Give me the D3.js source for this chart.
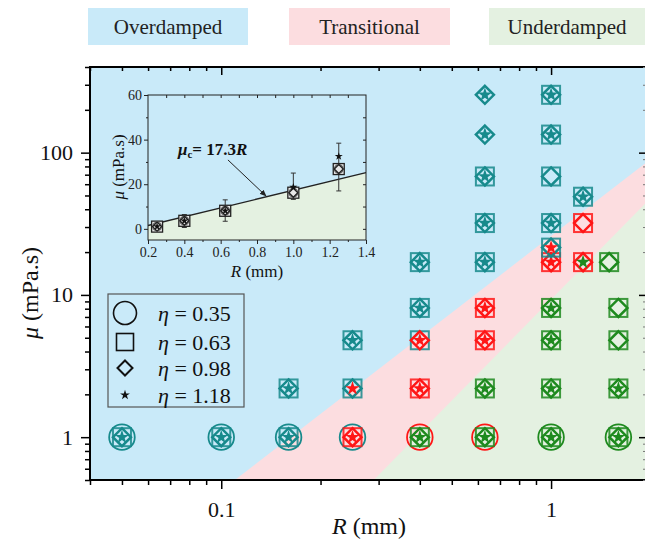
<!DOCTYPE html>
<html lang="en">
<head>
<meta charset="UTF-8">
<title>Damping regimes</title>
<style>
  body { margin: 0; background: #fff; }
  svg { display: block; }
</style>
</head>
<body>
<svg></svg>
<script src="https://d3js.org/d3.v7.min.js"></script>
<script>
const regimes = ["Overdamped", "Transitional", "Underdamped"];
const etas = ["0.35", "0.63", "0.98", "1.18"];
const xMajor = [0.1, 1];
const yMajor = [1, 10, 100];

// regime boundaries, [R, mu]
const edgeOT = [[0.11, 0.5], [1.94, 85]];
const edgeTU = [[0.29, 0.5], [1.94, 44.5]];

// R (mm), mu (mPa.s), regime seen for eta = 0.35 / 0.63 / 0.98 / 1.18  (O, T, U, "-" none)
const runs = [
  [0.05, 1, "OOOO"], [0.1, 1, "OOOO"], [0.16, 1, "OOOO"], [0.25, 1, "OTTT"],
  [0.4, 1, "TUUU"], [0.63, 1, "TUUU"], [1.0, 1, "UUUU"], [1.6, 1, "UUUU"],
  [0.16, 2.2, "-OOO"], [0.25, 2.2, "-OOT"], [0.4, 2.2, "-TTT"], [0.63, 2.2, "-UUU"],
  [1.0, 2.2, "-UUU"], [1.6, 2.2, "-UUU"],
  [0.25, 4.8, "-OOO"], [0.4, 4.8, "-OTT"], [0.63, 4.8, "-TTT"], [1.0, 4.8, "-UUU"], [1.6, 4.8, "-UU-"],
  [0.4, 8.1, "-OOO"], [0.63, 8.1, "-TTT"], [1.0, 8.1, "-UUU"], [1.6, 8.1, "-UU-"],
  [0.4, 17, "-OOO"], [0.63, 17, "-OOO"], [1.0, 17, "-TTT"], [1.25, 17, "-TTU"], [1.5, 17, "-UU-"],
  [1.0, 21.5, "-OOT"],
  [0.63, 32, "-OOO"], [1.0, 32, "-OOO"], [1.25, 32, "-TT-"],
  [1.25, 49, "-OOO"],
  [0.63, 68, "-OOO"], [1.0, 68, "-OO-"],
  [0.63, 134, "--OO"], [1.0, 134, "-OOO"],
  [0.63, 255, "--OO"], [1.0, 255, "-OOO"]
];

// inset: critical viscosity vs R
const insetR = [0.25, 0.4, 0.625, 1.0, 1.25];
const insetMu = [1.0, 3.6, 8.1, 16.2, 26.8];
const insetLow = [0.3, 0.6, 3.4, 13.2, 17];
const insetHigh = [1.8, 6.4, 13, 25, 38.4];
const insetStar = [1.0, 3.6, 8.1, 18.7, 32.5];
const fitLine = [[0.2, 1.5], [1.4, 25.2]];

const width = 645, height = 543;
const serif = "'Liberation Serif', 'Times New Roman', Times, serif";
const fill = {O: "#c9eaf9", T: "#fcdde0", U: "#e4f1e1"};
const ink = {O: "#178a8c", T: "#ff1616", U: "#1e8a1e"};
const codes = ["O", "T", "U"];

const svg = d3.select("svg").attr("width", width).attr("height", height)
    .attr("font-family", serif);

// regime labels across the top
const labelBoxes = [[88, 248], [289, 450], [489, 650]];
regimes.forEach((name, i) => {
  const [a, b] = labelBoxes[i];
  svg.append("rect").attr("x", a).attr("y", 8).attr("width", b - a).attr("height", 37)
      .attr("fill", fill[codes[i]]);
  svg.append("text").attr("x", i === 2 ? 567 : (a + b) / 2).attr("y", 34)
      .attr("text-anchor", "middle").attr("font-size", 21).attr("fill", "#222")
      .text(name);
});

// main plot
const x = d3.scaleLog().domain([0.04, 1.94]).range([90, 646]);
const y = d3.scaleLog().domain([0.5, 400]).range([480, 67]);

svg.append("clipPath").attr("id", "plot")
  .append("rect").attr("x", 90).attr("y", 67).attr("width", 556).attr("height", 413);

const area = svg.append("g").attr("clip-path", "url(#plot)");
area.append("rect").attr("x", 90).attr("y", 67).attr("width", 556).attr("height", 413)
    .attr("fill", fill.O);

const corner = [x.domain()[1], y.domain()[0]];
const poly = pts => "M" + pts.map(p => [x(p[0]), y(p[1])].join(",")).join("L") + "Z";
area.append("path").attr("d", poly([...edgeOT, corner])).attr("fill", fill.T);
area.append("path").attr("d", poly([...edgeTU, corner])).attr("fill", fill.U);

const star = d3.symbol(d3.symbolStar, 62)();
runs.forEach(([r, mu, code]) => {
  const c = code.split("");
  const g = area.append("g").attr("transform", `translate(${x(r)},${y(mu)})`)
      .attr("fill", "none");
  if (c[0] !== "-") g.append("circle").attr("r", 12.8)
      .attr("stroke", ink[c[0]]).attr("stroke-width", 1.8);
  if (c[1] !== "-") g.append("rect").attr("x", -9).attr("y", -9).attr("width", 18).attr("height", 18)
      .attr("stroke", ink[c[1]]).attr("stroke-width", 2).attr("stroke-opacity", 0.85);
  if (c[2] !== "-") g.append("path").attr("d", "M0,-9L9,0L0,9L-9,0Z")
      .attr("stroke", ink[c[2]]).attr("stroke-width", 2.5);
  if (c[3] !== "-") g.append("path").attr("d", star).attr("fill", ink[c[3]]);
});

// frame and ticks
svg.append("rect").attr("x", 90).attr("y", 67).attr("width", 556).attr("height", 413)
    .attr("fill", "none").attr("stroke", "#000").attr("stroke-width", 2);

const minorX = x.ticks().filter(v => !xMajor.includes(v));
const minorY = y.ticks().filter(v => !yMajor.includes(v));

function styleAxis(g, size) {
  g.select(".domain").remove();
  g.selectAll("line").attr("stroke", "#000").attr("stroke-width", 1.5);
  g.attr("font-family", serif).attr("font-size", size);
  g.selectAll("text").attr("fill", "#111");
}

svg.append("g").attr("transform", "translate(0,480)")
  .call(d3.axisBottom(x).tickValues(xMajor).tickSize(9).tickPadding(12).tickFormat(d => d))
  .call(g => styleAxis(g, 22));
svg.append("g").attr("transform", "translate(0,480)")
  .call(d3.axisBottom(x).tickValues(minorX).tickSize(5).tickFormat(""))
  .call(g => styleAxis(g, 22));
svg.append("g").attr("transform", "translate(0,67)")
  .call(d3.axisTop(x).tickValues(xMajor).tickSize(-8).tickFormat(""))
  .call(g => styleAxis(g, 22));
svg.append("g").attr("transform", "translate(0,67)")
  .call(d3.axisTop(x).tickValues(minorX).tickSize(-4).tickFormat(""))
  .call(g => styleAxis(g, 22));

svg.append("g").attr("transform", "translate(90,0)")
  .call(d3.axisLeft(y).tickValues(yMajor).tickSize(9).tickPadding(8).tickFormat(d => d))
  .call(g => styleAxis(g, 22));
svg.append("g").attr("transform", "translate(90,0)")
  .call(d3.axisLeft(y).tickValues(minorY).tickSize(5).tickFormat(""))
  .call(g => styleAxis(g, 22));
svg.append("g").attr("transform", "translate(646,0)")
  .call(d3.axisRight(y).tickValues(yMajor).tickSize(-7).tickFormat(""))
  .call(g => styleAxis(g, 22));
svg.append("g").attr("transform", "translate(646,0)")
  .call(d3.axisRight(y).tickValues(minorY).tickSize(-3).tickFormat(""))
  .call(g => styleAxis(g, 22))
  .call(g => g.selectAll("line").attr("stroke", "#777").attr("stroke-width", 1));

// axis titles
svg.append("text").attr("x", 369).attr("y", 534).attr("text-anchor", "middle")
    .attr("font-size", 24).attr("fill", "#111")
    .call(t => { t.append("tspan").attr("font-style", "italic").text("R");
                 t.append("tspan").text(" (mm)"); });
svg.append("text").attr("transform", "translate(38,293) rotate(-90)").attr("text-anchor", "middle")
    .attr("font-size", 24).attr("fill", "#111")
    .call(t => { t.append("tspan").attr("font-style", "italic").text("μ");
                 t.append("tspan").text(" (mPa.s)"); });

// legend
const legend = svg.append("g");
legend.append("rect").attr("x", 108).attr("y", 294).attr("width", 136).attr("height", 113)
    .attr("fill", fill.O).attr("stroke", "#555").attr("stroke-width", 1.2);
const legendY = [313, 342, 368, 395];
etas.forEach((eta, i) => {
  const g = legend.append("g").attr("transform", `translate(125,${legendY[i]})`)
      .attr("fill", "none").attr("stroke", "#111").attr("stroke-width", 1.6);
  if (i === 0) g.append("circle").attr("r", 11.5);
  if (i === 1) g.append("rect").attr("x", -8.5).attr("y", -8.5).attr("width", 17).attr("height", 17);
  if (i === 2) g.append("path").attr("d", "M0,-7.5L7.5,0L0,7.5L-7.5,0Z").attr("stroke-width", 2);
  if (i === 3) g.append("path").attr("d", d3.symbol(d3.symbolStar, 30)()).attr("fill", "#111").attr("stroke", "none");
  legend.append("text").attr("x", 158).attr("y", legendY[i] + 8).attr("font-size", 22).attr("fill", "#111")
    .call(t => { t.append("tspan").attr("font-style", "italic").text("η");
                 t.append("tspan").text(" = " + eta); });
});

// inset
const ix = d3.scaleLinear().domain([0.2, 1.4]).range([148, 366]);
const iy = d3.scaleLinear().domain([-5, 60]).range([240, 95]);
const inset = svg.append("g");
inset.append("rect").attr("x", 148).attr("y", 95).attr("width", 218).attr("height", 145)
    .attr("fill", fill.O);
inset.append("path")
    .attr("d", "M" + [...fitLine, [1.4, -5], [0.2, -5]].map(p => [ix(p[0]), iy(p[1])].join(",")).join("L") + "Z")
    .attr("fill", fill.U);
inset.append("line").attr("x1", ix(fitLine[0][0])).attr("y1", iy(fitLine[0][1]))
    .attr("x2", ix(fitLine[1][0])).attr("y2", iy(fitLine[1][1]))
    .attr("stroke", "#222").attr("stroke-width", 1.3);

insetR.forEach((r, i) => {
  const cx = ix(r);
  inset.append("line").attr("x1", cx).attr("x2", cx).attr("y1", iy(insetLow[i])).attr("y2", iy(insetHigh[i]))
      .attr("stroke", "#333").attr("stroke-width", 1);
  [insetLow[i], insetHigh[i]].forEach(v => inset.append("line")
      .attr("x1", cx - 2.5).attr("x2", cx + 2.5).attr("y1", iy(v)).attr("y2", iy(v))
      .attr("stroke", "#333").attr("stroke-width", 1));
  const g = inset.append("g").attr("transform", `translate(${cx},${iy(insetMu[i])})`)
      .attr("stroke", "#222").attr("stroke-width", 1.3);
  g.append("rect").attr("x", -5.5).attr("y", -5.5).attr("width", 11).attr("height", 11).attr("fill", "#e8e8e8");
  g.append("circle").attr("r", 4.3).attr("fill", "none").attr("stroke", "#666");
  g.append("path").attr("d", "M0,-4.5L4.5,0L0,4.5L-4.5,0Z").attr("fill", "none");
  inset.append("path").attr("transform", `translate(${cx},${iy(insetStar[i])})`)
      .attr("d", d3.symbol(d3.symbolStar, 20)()).attr("fill", "#111");
});

inset.append("rect").attr("x", 148).attr("y", 95).attr("width", 218).attr("height", 145)
    .attr("fill", "none").attr("stroke", "#222").attr("stroke-width", 1);

const iyMajor = [0, 20, 40, 60];
const ixMajor = [0.2, 0.4, 0.6, 0.8, 1.0, 1.2, 1.4];
function styleInset(g) {
  g.select(".domain").remove();
  g.selectAll("line").attr("stroke", "#222").attr("stroke-width", 1);
  g.attr("font-family", serif).attr("font-size", 14);
  g.selectAll("text").attr("fill", "#222");
}
inset.append("g").attr("transform", "translate(148,0)")
  .call(d3.axisLeft(iy).tickValues(iyMajor).tickSize(4).tickPadding(2)).call(styleInset);
inset.append("g").attr("transform", "translate(148,0)")
  .call(d3.axisLeft(iy).tickValues([10, 30, 50]).tickSize(2).tickFormat("")).call(styleInset);
inset.append("g").attr("transform", "translate(366,0)")
  .call(d3.axisRight(iy).tickValues([0, 10, 20, 30, 40, 50]).tickSize(-3).tickFormat("")).call(styleInset);
inset.append("g").attr("transform", "translate(0,240)")
  .call(d3.axisBottom(ix).tickValues(ixMajor).tickSize(4).tickPadding(3).tickFormat(d3.format(".1f"))).call(styleInset);
inset.append("g").attr("transform", "translate(0,240)")
  .call(d3.axisBottom(ix).tickValues([0.3, 0.5, 0.7, 0.9, 1.1, 1.3]).tickSize(2).tickFormat("")).call(styleInset);
inset.append("g").attr("transform", "translate(0,95)")
  .call(d3.axisTop(ix).tickValues([0.3, 0.4, 0.5, 0.6, 0.7, 0.8, 0.9, 1.0, 1.1, 1.2, 1.3]).tickSize(-3).tickFormat("")).call(styleInset);

inset.append("text").attr("x", 257).attr("y", 277).attr("text-anchor", "middle")
    .attr("font-size", 17).attr("fill", "#111")
    .call(t => { t.append("tspan").attr("font-style", "italic").text("R");
                 t.append("tspan").text(" (mm)"); });
inset.append("text").attr("transform", "translate(124,167) rotate(-90)").attr("text-anchor", "middle")
    .attr("font-size", 17).attr("fill", "#111")
    .call(t => { t.append("tspan").attr("font-style", "italic").text("μ");
                 t.append("tspan").text(" (mPa.s)"); });

// fit annotation
svg.append("defs").append("marker").attr("id", "head")
    .attr("viewBox", "0 0 10 10").attr("refX", 9).attr("refY", 5)
    .attr("markerWidth", 7).attr("markerHeight", 7).attr("orient", "auto")
  .append("path").attr("d", "M0,1L10,5L0,9Z").attr("fill", "#222");
inset.append("line").attr("x1", ix(0.64)).attr("y1", iy(30.9)).attr("x2", ix(0.85)).attr("y2", iy(14.7))
    .attr("stroke", "#222").attr("stroke-width", 1).attr("marker-end", "url(#head)");
inset.append("text").attr("x", ix(0.365)).attr("y", iy(33.1))
    .attr("font-size", 17).attr("font-weight", "bold").attr("fill", "#111")
    .call(t => {
      t.append("tspan").attr("font-style", "italic").text("μ");
      t.append("tspan").attr("font-size", 11).attr("dy", 3).text("c");
      t.append("tspan").attr("dy", -3).text("= 17.3");
      t.append("tspan").attr("font-style", "italic").text("R");
    });
</script>
</body>
</html>
